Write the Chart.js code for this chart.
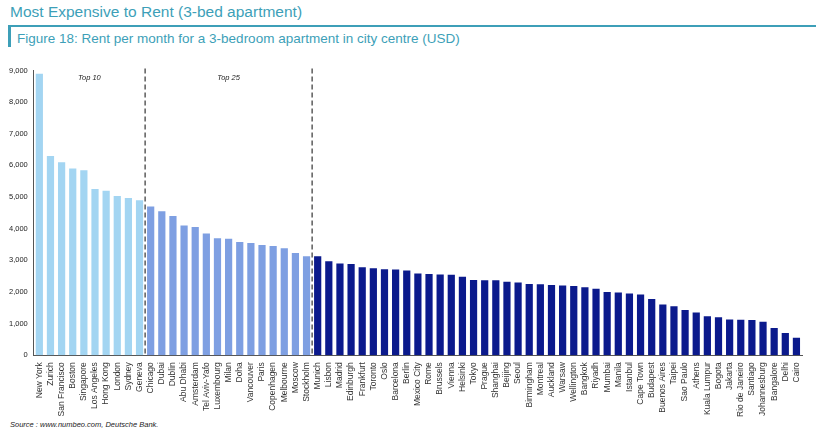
<!DOCTYPE html><html><head><meta charset="utf-8">
<script src="https://cdn.jsdelivr.net/npm/chart.js@4"></script>
<style>
body{margin:0;background:#fff;font-family:Arial,"Liberation Sans",sans-serif;}
#t1{position:absolute;left:10px;top:3px;font-size:15.5px;color:#3d9fb8;}
#t2{position:absolute;left:8px;top:25px;width:808px;height:22px;border-left:3px solid #3d9fb8;border-top:2px solid #3d9fb8;font-size:13.5px;color:#3d9fb8;padding-left:6px;padding-top:4px;box-sizing:border-box}
#wrap{position:absolute;left:0;top:63px;width:820px;height:357px}
#src{position:absolute;left:10px;top:420px;font-size:7.5px;font-style:italic;color:#222}
</style></head><body>
<div id="t1">Most Expensive to Rent (3-bed apartment)</div>
<div id="t2">Figure 18: Rent per month for a 3-bedroom apartment in city centre (USD)</div>
<div id="wrap"><canvas id="c"></canvas></div>
<div id="src">Source : www.numbeo.com, Deutsche Bank.</div>
<script>
const cities=["New York","Zurich","San Francisco","Boston","Singapore","Los Angeles","Hong Kong","London","Sydney","Geneva","Chicago","Dubai","Dublin","Abu Dhabi","Amsterdam","Tel Aviv-Yafo","Luxembourg","Milan","Doha","Vancouver","Paris","Copenhagen","Melbourne","Moscow","Stockholm","Munich","Lisbon","Madrid","Edinburgh","Frankfurt","Toronto","Oslo","Barcelona","Berlin","Mexico City","Rome","Brussels","Vienna","Helsinki","Tokyo","Prague","Shanghai","Beijing","Seoul","Birmingham","Montreal","Auckland","Warsaw","Wellington","Bangkok","Riyadh","Mumbai","Manila","Istanbul","Cape Town","Budapest","Buenos Aires","Taipei","Sao Paulo","Athens","Kuala Lumpur","Bogota","Jakarta","Rio de Janeiro","Santiago","Johannesburg","Bangalore","Delhi","Cairo"];
const rents=[8900,6300,6100,5900,5850,5250,5200,5030,4970,4900,4700,4550,4400,4100,4050,3850,3700,3680,3580,3550,3480,3450,3380,3230,3130,3130,2970,2900,2880,2780,2750,2720,2710,2680,2580,2570,2550,2540,2480,2380,2370,2370,2320,2300,2250,2240,2220,2200,2190,2150,2100,2000,1980,1950,1920,1780,1600,1550,1430,1350,1230,1200,1130,1120,1110,1060,860,700,550];
const groupBreaks=[10,25];
const groupLabels=["Top 10","Top 25"];
const colors=rents.map((v,i)=>i<10?"#a3d5f2":i<25?"#7e9fe2":"#0b1a8c");
const marks={id:"marks",afterDatasetsDraw(ch){
 const {ctx,chartArea:a,scales:{x}}=ch;ctx.save();
 groupBreaks.forEach((b,k)=>{
  const px=(x.getPixelForValue(b-1)+x.getPixelForValue(b))/2;
  ctx.strokeStyle="#333";ctx.lineWidth=1.2;ctx.setLineDash([5,3]);
  ctx.beginPath();ctx.moveTo(px,a.top-2);ctx.lineTo(px,a.bottom);ctx.stroke();
  const prev=k?(x.getPixelForValue(groupBreaks[k-1]-1)+x.getPixelForValue(groupBreaks[k-1]))/2:a.left;
  ctx.setLineDash([]);ctx.fillStyle="#222";ctx.font="italic 7.5px Arial";ctx.textAlign="center";
  ctx.fillText(groupLabels[k],(prev+px)/2,a.top+9);
 });ctx.restore();}};
new Chart(document.getElementById("c"),{type:"bar",
data:{labels:cities,datasets:[{data:rents,backgroundColor:colors,categoryPercentage:0.9,barPercentage:0.72}]},
options:{responsive:true,maintainAspectRatio:false,animation:false,
layout:{padding:{left:6,right:18,top:2}},
plugins:{legend:{display:false},tooltip:{enabled:false}},
scales:{y:{min:0,max:9000,ticks:{stepSize:1000,color:"#222",font:{size:7.5},callback:v=>v.toLocaleString("en-US")},grid:{display:false,drawTicks:true,tickLength:3},border:{color:"#555"}},
x:{offset:true,ticks:{autoSkip:false,maxRotation:90,minRotation:90,color:"#333",font:{size:8.5}},grid:{display:false,drawTicks:true,tickLength:4},border:{color:"#555"}}}},
plugins:[marks]});
</script></body></html>
